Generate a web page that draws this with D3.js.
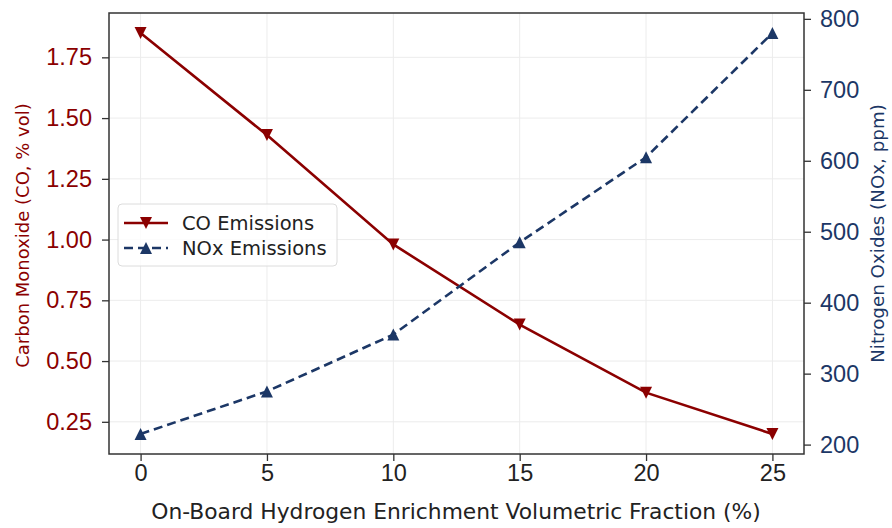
<!DOCTYPE html>
<html>
<head>
<meta charset="utf-8">
<script src="https://cdn.jsdelivr.net/npm/d3@7"></script>
<style>
  body { margin: 0; background: #fff; }
  svg { display: block; font-family: "DejaVu Sans", sans-serif; }
</style>
</head>
<body>
<div id="chart"></div>
<script>
// data
const fractions = [0, 5, 10, 15, 20, 25]
const coValues = [1.85, 1.43, 0.98, 0.65, 0.37, 0.20]
const noxValues = [215, 275, 355, 485, 605, 780]
const xTicks = [0, 5, 10, 15, 20, 25]
const coTicks = [0.25, 0.50, 0.75, 1.00, 1.25, 1.50, 1.75]
const noxTicks = [200, 300, 400, 500, 600, 700, 800]
const seriesNames = ['CO Emissions', 'NOx Emissions']

const coColor = '#8b0000'
const noxColor = '#1c3766'

const width = 892
const height = 528
const margin = { top: 13, right: 88, bottom: 74, left: 109 }
const innerW = width - margin.left - margin.right
const innerH = height - margin.top - margin.bottom

// matplotlib style 5% padding around data range
const padded = (vals) => {
    const [lo, hi] = d3.extent(vals)
    const pad = (hi - lo) * 0.05
    return [lo - pad, hi + pad]
}

const svg = d3.select('#chart')
    .append('svg')
    .attr('width', width)
    .attr('height', height)

const g = svg.append('g')
    .attr('transform', `translate(${margin.left},${margin.top})`)

const xScale = d3.scaleLinear().domain(padded(fractions)).range([0, innerW])
const yCo = d3.scaleLinear().domain(padded(coValues)).range([innerH, 0])
const yNox = d3.scaleLinear().domain(padded(noxValues)).range([innerH, 0])

// grid lines
g.append('g')
    .selectAll('line')
    .data(xTicks)
    .enter()
    .append('line')
        .attr('x1', d => xScale(d))
        .attr('x2', d => xScale(d))
        .attr('y1', 0)
        .attr('y2', innerH)
        .attr('stroke', '#ececec')
        .attr('stroke-width', 1)

g.append('g')
    .selectAll('line')
    .data(coTicks)
    .enter()
    .append('line')
        .attr('x1', 0)
        .attr('x2', innerW)
        .attr('y1', d => yCo(d))
        .attr('y2', d => yCo(d))
        .attr('stroke', '#ececec')
        .attr('stroke-width', 1)

// axes
const styleAxis = (sel, color) => {
    sel.select('.domain').remove()
    sel.selectAll('.tick line').attr('stroke', '#333').attr('stroke-width', 1.3)
    sel.selectAll('.tick text')
        .attr('fill', color)
        .style('font-size', '23.5px')
}

const xAxis = g.append('g')
    .attr('transform', `translate(0,${innerH})`)
    .call(d3.axisBottom(xScale).tickValues(xTicks).tickSize(7).tickPadding(3).tickFormat(d3.format('d')))
styleAxis(xAxis, '#222')

const leftAxis = g.append('g')
    .call(d3.axisLeft(yCo).tickValues(coTicks).tickSize(7).tickPadding(10).tickFormat(d3.format('.2f')))
styleAxis(leftAxis, coColor)

const rightAxis = g.append('g')
    .attr('transform', `translate(${innerW},0)`)
    .call(d3.axisRight(yNox).tickValues(noxTicks).tickSize(7).tickPadding(9).tickFormat(d3.format('d')))
styleAxis(rightAxis, noxColor)

// lines
const coLine = d3.line()
    .x((d, i) => xScale(fractions[i]))
    .y(d => yCo(d))

const noxLine = d3.line()
    .x((d, i) => xScale(fractions[i]))
    .y(d => yNox(d))

g.append('path')
    .datum(coValues)
    .attr('d', coLine)
    .attr('fill', 'none')
    .attr('stroke', coColor)
    .attr('stroke-width', 2.6)

g.append('path')
    .datum(noxValues)
    .attr('d', noxLine)
    .attr('fill', 'none')
    .attr('stroke', noxColor)
    .attr('stroke-width', 2.6)
    .attr('stroke-dasharray', '9,5')

// triangle markers
const triDown = (s) => `M${-s/2},${-s/2}L${s/2},${-s/2}L0,${s/2}Z`
const triUp = (s) => `M${-s/2},${s/2}L${s/2},${s/2}L0,${-s/2}Z`
const markerSize = 12

g.selectAll('.co-marker')
    .data(coValues)
    .enter()
    .append('path')
        .attr('class', 'co-marker')
        .attr('d', triDown(markerSize))
        .attr('transform', (d, i) => `translate(${xScale(fractions[i])},${yCo(d)})`)
        .attr('fill', coColor)

g.selectAll('.nox-marker')
    .data(noxValues)
    .enter()
    .append('path')
        .attr('class', 'nox-marker')
        .attr('d', triUp(markerSize))
        .attr('transform', (d, i) => `translate(${xScale(fractions[i])},${yNox(d)})`)
        .attr('fill', noxColor)

// frame
g.append('rect')
    .attr('width', innerW)
    .attr('height', innerH)
    .attr('fill', 'none')
    .attr('stroke', '#333')
    .attr('stroke-width', 1.5)

// axis titles
svg.append('text')
    .attr('transform', `translate(${width / 2 + 10},${height - 9})`)
    .attr('text-anchor', 'middle')
    .style('font-size', '21.8px')
    .attr('fill', '#222')
    .text('On-Board Hydrogen Enrichment Volumetric Fraction (%)')

svg.append('text')
    .attr('transform', `translate(29,${margin.top + innerH / 2 + 2}) rotate(-90)`)
    .attr('text-anchor', 'middle')
    .style('font-size', '18px')
    .attr('fill', coColor)
    .text('Carbon Monoxide (CO, % vol)')

svg.append('text')
    .attr('transform', `translate(884,${margin.top + innerH / 2}) rotate(-90)`)
    .attr('text-anchor', 'middle')
    .style('font-size', '18.3px')
    .attr('fill', noxColor)
    .text('Nitrogen Oxides (NOx, ppm)')

// legend
const legend = g.append('g')
    .attr('transform', 'translate(9,191)')

legend.append('rect')
    .attr('width', 219)
    .attr('height', 62)
    .attr('rx', 4)
    .attr('fill', 'rgba(255,255,255,0.8)')
    .attr('stroke', '#dcdcdc')

const legendColors = [coColor, noxColor]
const legendShapes = [triDown, triUp]

const rows = legend.selectAll('.legend-row')
    .data(seriesNames)
    .enter()
    .append('g')
        .attr('class', 'legend-row')
        .attr('transform', (d, i) => `translate(0,${19 + 25 * i})`)

rows.append('line')
    .attr('x1', 6)
    .attr('x2', 50)
    .attr('stroke', (d, i) => legendColors[i])
    .attr('stroke-width', 2.6)
    .attr('stroke-dasharray', (d, i) => i === 1 ? '9,5' : null)

rows.append('path')
    .attr('d', (d, i) => legendShapes[i](markerSize))
    .attr('transform', 'translate(28,0)')
    .attr('fill', (d, i) => legendColors[i])

rows.append('text')
    .attr('x', 64)
    .attr('dy', '0.35em')
    .style('font-size', '19.5px')
    .attr('fill', '#222')
    .text(d => d)
</script>
</body>
</html>
